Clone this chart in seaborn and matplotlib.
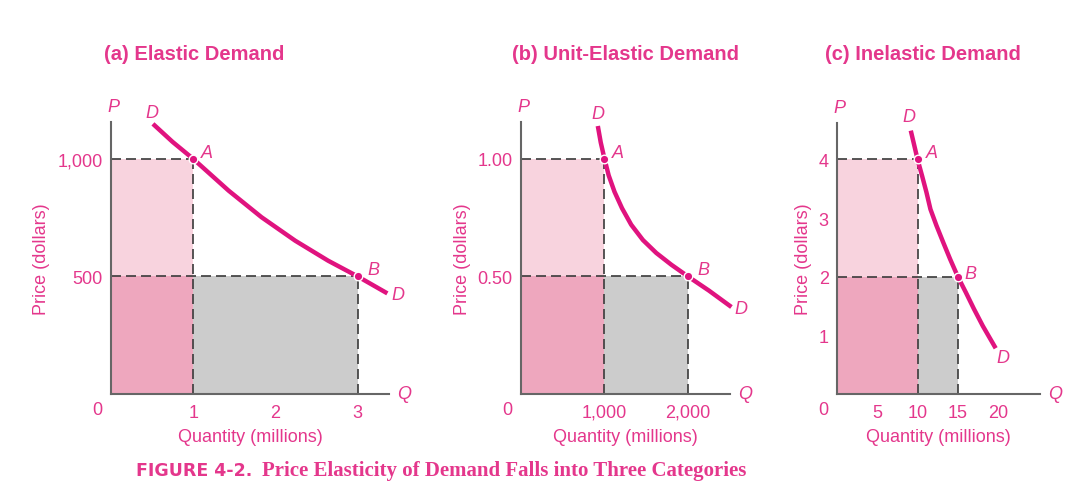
import numpy as np
import pandas as pd
import matplotlib.pyplot as plt
import seaborn as sns

# Demand curves (quantity, price)
elastic_q = [0.51, 0.75, 1.0, 1.43, 1.83, 2.24, 2.64, 3.0, 3.36]
elastic_p = [1149, 1072, 1000, 865, 752, 652, 567, 500, 428]

unit_q = [920, 955, 1000, 1050, 1120, 1210, 1320, 1460, 1620, 1800, 2000, 2250, 2520]
unit_p = [1.14, 1.07, 1.00, 0.93, 0.86, 0.79, 0.72, 0.655, 0.60, 0.55, 0.50, 0.44, 0.37]

inelastic_q = [9.16, 10.0, 10.56, 11.1, 11.6, 12.35, 13.2, 14.04, 15.0, 16.0, 17.0, 18.1, 19.7]
inelastic_p = [4.49, 4.0, 3.72, 3.44, 3.15, 2.87, 2.58, 2.30, 2.0, 1.73, 1.45, 1.16, 0.78]

# Points A and B on each curve
elastic_ab_q = [1, 3]
elastic_ab_p = [1000, 500]
unit_ab_q = [1000, 2000]
unit_ab_p = [1.00, 0.50]
inelastic_ab_q = [10, 15]
inelastic_ab_p = [4, 2]

# Ticks
elastic_xticks = [1, 2, 3]
elastic_xlabels = ['1', '2', '3']
elastic_yticks = [500, 1000]
elastic_ylabels = ['500', '1,000']
unit_xticks = [1000, 2000]
unit_xlabels = ['1,000', '2,000']
unit_yticks = [0.5, 1.0]
unit_ylabels = ['0.50', '1.00']
inelastic_xticks = [5, 10, 15, 20]
inelastic_xlabels = ['5', '10', '15', '20']
inelastic_yticks = [1, 2, 3, 4]
inelastic_ylabels = ['1', '2', '3', '4']

titles = ['(a) Elastic Demand', '(b) Unit-Elastic Demand', '(c) Inelastic Demand']

PINK = '#E0137F'
TEXT = '#E4378C'
LIGHT = '#F8D3DE'
MID = '#EEA7BE'
GRAY = '#CCCCCC'
DASH = '#3a3a3a'

sns.set_style('white')
plt.rcParams['font.family'] = ['Liberation Sans', 'DejaVu Sans']

fig = plt.figure(figsize=(10.72, 4.85), dpi=100)

W, H = 1072, 485
panels = [
    dict(q=elastic_q, p=elastic_p, abq=elastic_ab_q, abp=elastic_ab_p,
         xt=elastic_xticks, xl=elastic_xlabels, yt=elastic_yticks, yl=elastic_ylabels,
         box=(111, 389, 123), xlim=3.38, ylim=1157,
         dtop=(-1, 8), dend=(7.5, -1), boff=(11, 5.3), title_x=194),
    dict(q=unit_q, p=unit_p, abq=unit_ab_q, abp=unit_ab_p,
         xt=unit_xticks, xl=unit_xlabels, yt=unit_yticks, yl=unit_ylabels,
         box=(521, 730, 123), xlim=2503, ylim=1.157,
         dtop=(0, 9), dend=(6.7, -1.2), boff=(11, 5.3), title_x=625),
    dict(q=inelastic_q, p=inelastic_p, abq=inelastic_ab_q, abp=inelastic_ab_p,
         xt=inelastic_xticks, xl=inelastic_xlabels, yt=inelastic_yticks, yl=inelastic_ylabels,
         box=(837, 1040, 124), xlim=25.2, ylim=4.62,
         dtop=(-1, 10.5), dend=(5.3, -6.5), boff=(9, 2.5), title_x=923),
]

for i, cfg in enumerate(panels):
    left, right, top = cfg['box']
    bottom = 395
    ax = fig.add_axes([left / W, (H - bottom) / H, (right - left) / W, (bottom - top) / H])
    ax.set_xlim(0, cfg['xlim'])
    ax.set_ylim(0, cfg['ylim'])

    qa, qb = cfg['abq']
    pa, pb = cfg['abp']

    # revenue rectangles
    ax.fill_between([0, qa], pb, pa, color=LIGHT, lw=0, zorder=1)
    ax.fill_between([0, qa], 0, pb, color=MID, lw=0, zorder=1)
    ax.fill_between([qa, qb], 0, pb, color=GRAY, lw=0, zorder=1)

    # dashed guides
    for q, p in zip(cfg['abq'], cfg['abp']):
        ax.plot([0, q], [p, p], color=DASH, lw=1.2, dashes=(6, 3), zorder=2)
        ax.plot([q, q], [0, p], color=DASH, lw=1.2, dashes=(6, 3), zorder=2)

    df = pd.DataFrame({'Q': cfg['q'], 'P': cfg['p']})
    sns.lineplot(data=df, x='Q', y='P', sort=False, color=PINK, lw=3.2,
                 solid_capstyle='butt', solid_joinstyle='round', ax=ax, zorder=3,
                 clip_on=False)
    pts = pd.DataFrame({'Q': cfg['abq'], 'P': cfg['abp']})
    sns.scatterplot(data=pts, x='Q', y='P', color=PINK, s=38, edgecolor='white',
                    linewidth=1.0, ax=ax, zorder=4)

    ax.set_xticks(cfg['xt'])
    ax.set_xticklabels(cfg['xl'])
    ax.set_yticks(cfg['yt'])
    ax.set_yticklabels(cfg['yl'])
    ax.tick_params(direction='in', length=9, width=1.2, color='#555555',
                   labelcolor=TEXT, labelsize=13, pad=6)
    ax.tick_params(axis='x', pad=7)
    for s in ['top', 'right']:
        ax.spines[s].set_visible(False)
    for s in ['left', 'bottom']:
        ax.spines[s].set_color('#666666')
        ax.spines[s].set_linewidth(1.5)
        ax.spines[s].set_zorder(5)

    ax.set_xlabel('Quantity (millions)', color=TEXT, fontsize=13, labelpad=5)
    ax.set_ylabel('Price (dollars)', color=TEXT, fontsize=13, labelpad=5)

    lab = dict(color=TEXT, fontsize=13, fontstyle='italic', textcoords='offset points',
               ha='center', va='center', annotation_clip=False)
    ax.annotate('0', xy=(0, 0), xycoords='axes fraction', xytext=(-10, -11),
                ha='center', va='center', color=TEXT, fontsize=13, textcoords='offset points')
    ax.annotate('P', xy=(0, 1), xycoords='axes fraction', xytext=(2, 11), **lab)
    ax.annotate('Q', xy=(1, 0), xycoords='axes fraction', xytext=(11, 0), **lab)
    ax.annotate('D', xy=(cfg['q'][0], cfg['p'][0]), xytext=cfg['dtop'], **lab)
    ax.annotate('D', xy=(cfg['q'][-1], cfg['p'][-1]), xytext=cfg['dend'], **lab)
    ax.annotate('A', xy=(qa, pa), xytext=(10, 4.8), **lab)
    ax.annotate('B', xy=(qb, pb), xytext=cfg['boff'], **lab)

    fig.text(cfg['title_x'] / W, 1 - 55 / H, titles[i], color=TEXT, fontsize=14.5,
             fontweight='bold', ha='center', va='center')

fig.text(136 / W, 1 - 476 / H, 'FIGURE 4-2.', color=TEXT, fontsize=12.5,
         fontweight='bold', family='DejaVu Sans', ha='left', va='baseline')
fig.text(262 / W, 1 - 476 / H, 'Price Elasticity of Demand Falls into Three Categories',
         color=TEXT, fontsize=15, fontweight='bold', family='Liberation Serif',
         ha='left', va='baseline')

fig.savefig('out.png', dpi=100, facecolor='white')
